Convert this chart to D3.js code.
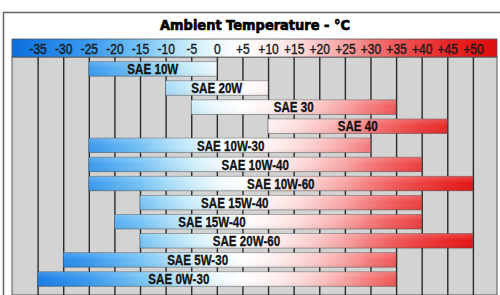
<!DOCTYPE html>
<html>
<head>
<meta charset="utf-8">
<script src="https://cdn.jsdelivr.net/npm/d3@7"></script>
<style>
  body { margin: 0; background: #fff; }
  svg { display: block; }
</style>
</head>
<body>
<div id="chart"></div>
<script>
// oil grades and their ambient temperature range (°C)
const grades = ["SAE 10W", "SAE 20W", "SAE 30", "SAE 40", "SAE 10W-30", "SAE 10W-40",
  "SAE 10W-60", "SAE 15W-40", "SAE 15W-40", "SAE 20W-60", "SAE 5W-30", "SAE 0W-30"];
const minTemps = [-25, -10, -5, 10, -25, -25, -25, -15, -20, -15, -30, -35];
const maxTemps = [0, 10, 35, 45, 30, 40, 50, 40, 40, 50, 35, 35];
const tickTemps = [-35, -30, -25, -20, -15, -10, -5, 0, 5, 10, 15, 20, 25, 30, 35, 40, 45, 50];
const titleText = "Ambient Temperature - °C";

const w = 500, h = 295;

// label nudges (px) where the label isn't centred on its bar
const labelShift = [0, 0, 0, 0, 1, 0, 0, -46, -56, -60, -32, -38];

const rows = grades.map((g, i) => ({ grade: g, lo: minTemps[i], hi: maxTemps[i], i: i }));

let x = d3.scaleLinear().domain([-40, 55]).range([12, 498.5]);
let y = d3.scaleBand()
  .domain(rows.map(d => d.i))
  .range([59.4, 288.6])
  .paddingInner(0.24)
  .paddingOuter(0.12);

let gridTop = 57, gridRight = 497;

let svg = d3.select("#chart").append("svg")
  .attr("width", w)
  .attr("height", h);

// squeeze text horizontally (no narrow font installed)
function narrow(sel, factor) {
  sel.each(function() {
    let len = this.getComputedTextLength();
    d3.select(this)
      .attr("textLength", len * factor)
      .attr("lengthAdjust", "spacingAndGlyphs");
  });
}

// colour ramp tied to temperature: blue -> white -> red
let rampStops = [
  [-40, "#0e6edc"], [-35, "#1a7ee6"], [-25, "#3a9aef"], [-15, "#74c2f5"], [-10, "#a2d9f8"],
  [-5, "#cbedfb"], [0, "#eef9fd"], [5, "#ffffff"], [10, "#fff2f2"], [15, "#fde0e0"],
  [20, "#fbc4c4"], [25, "#f8a2a2"], [30, "#f47a7a"], [35, "#f05858"], [40, "#ec3e3e"],
  [45, "#e82828"], [50, "#e41616"], [55, "#de0e0e"]
];
let defs = svg.append("defs");
let grad = defs.append("linearGradient")
  .attr("id", "ramp")
  .attr("gradientUnits", "userSpaceOnUse")
  .attr("x1", x(-40)).attr("x2", x(55))
  .attr("y1", 0).attr("y2", 0);
grad.selectAll("stop")
  .data(rampStops)
  .enter().append("stop")
  .attr("offset", d => (d[0] + 40) / 95)
  .attr("stop-color", d => d[1]);

// soft top highlight for the bars
let shine = defs.append("linearGradient")
  .attr("id", "shine")
  .attr("x1", 0).attr("x2", 0).attr("y1", 0).attr("y2", 1);
shine.append("stop").attr("offset", 0).attr("stop-color", "#fff").attr("stop-opacity", 0.18);
shine.append("stop").attr("offset", 0.5).attr("stop-color", "#fff").attr("stop-opacity", 0);
shine.append("stop").attr("offset", 1).attr("stop-color", "#000").attr("stop-opacity", 0.06);

// frame
svg.append("path")
  .attr("d", `M3.5,${h} V12.5 H${w}`)
  .attr("fill", "none")
  .attr("stroke", "#666")
  .attr("stroke-width", 1.5);

// title
svg.append("text")
  .attr("x", 255)
  .attr("y", 30)
  .attr("text-anchor", "middle")
  .attr("textLength", 190)
  .attr("lengthAdjust", "spacingAndGlyphs")
  .style("font-family", "'DejaVu Sans', sans-serif")
  .style("font-weight", "bold")
  .style("font-size", "14px")
  .attr("fill", "#000")
  .attr("stroke", "#000")
  .attr("stroke-width", 0.7)
  .text(titleText);

// grey grid area
svg.append("rect")
  .attr("x", x(-40))
  .attr("y", gridTop)
  .attr("width", gridRight - x(-40))
  .attr("height", h - gridTop)
  .attr("fill", "#d3d3d3")
  .attr("stroke", "#555")
  .attr("stroke-width", 1);

// vertical grid lines via an axis
let grid = svg.append("g")
  .attr("transform", `translate(0,${gridTop})`)
  .call(d3.axisBottom(x).tickValues(tickTemps).tickSize(h - gridTop).tickFormat(""));
grid.select(".domain").remove();
grid.selectAll(".tick line")
  .attr("stroke", "#2a2a2a")
  .attr("stroke-width", 1.4);

// header band with temperature labels
svg.append("rect")
  .attr("x", x(-40))
  .attr("y", 39)
  .attr("width", gridRight - x(-40))
  .attr("height", gridTop - 39)
  .attr("fill", "url(#ramp)")
  .attr("stroke", "#555")
  .attr("stroke-width", 0.8);

let header = svg.append("g")
  .attr("transform", "translate(0,40)")
  .call(d3.axisBottom(x)
    .tickValues(tickTemps)
    .tickSize(0)
    .tickFormat(v => v > 0 ? "+" + v : String(v)));
header.select(".domain").remove();
header.selectAll(".tick text")
  .attr("dy", 0)
  .attr("y", 14)
  .style("font-family", "'Liberation Sans', Arial, sans-serif")
  .style("font-size", "14px")
  .attr("fill", "#1a1a1a")
  .attr("stroke", "#1a1a1a")
  .attr("stroke-width", 0.4)
  .call(narrow, 0.86);

// bars
let bars = svg.append("g");
bars.selectAll("rect.bar")
  .data(rows)
  .enter().append("rect")
  .attr("class", "bar")
  .attr("x", d => x(d.lo))
  .attr("y", d => y(d.i))
  .attr("width", d => x(d.hi) - x(d.lo))
  .attr("height", y.bandwidth())
  .attr("fill", "url(#ramp)")
  .attr("stroke", "rgba(70,70,70,0.55)")
  .attr("stroke-width", 0.8);

bars.selectAll("rect.shine")
  .data(rows)
  .enter().append("rect")
  .attr("class", "shine")
  .attr("x", d => x(d.lo))
  .attr("y", d => y(d.i))
  .attr("width", d => x(d.hi) - x(d.lo))
  .attr("height", y.bandwidth())
  .attr("fill", "url(#shine)");

bars.selectAll("text")
  .data(rows)
  .enter().append("text")
  .attr("x", d => (x(d.lo) + x(d.hi)) / 2 + labelShift[d.i])
  .attr("y", d => y(d.i) + y.bandwidth() / 2)
  .attr("dy", "0.36em")
  .attr("text-anchor", "middle")
  .style("font-family", "'Liberation Sans', Arial, sans-serif")
  .style("font-weight", "bold")
  .style("font-size", "14.5px")
  .attr("fill", "#111")
  .attr("stroke", "#111")
  .attr("stroke-width", 0.3)
  .text(d => d.grade)
  .call(narrow, 0.8);
</script>
</body>
</html>
